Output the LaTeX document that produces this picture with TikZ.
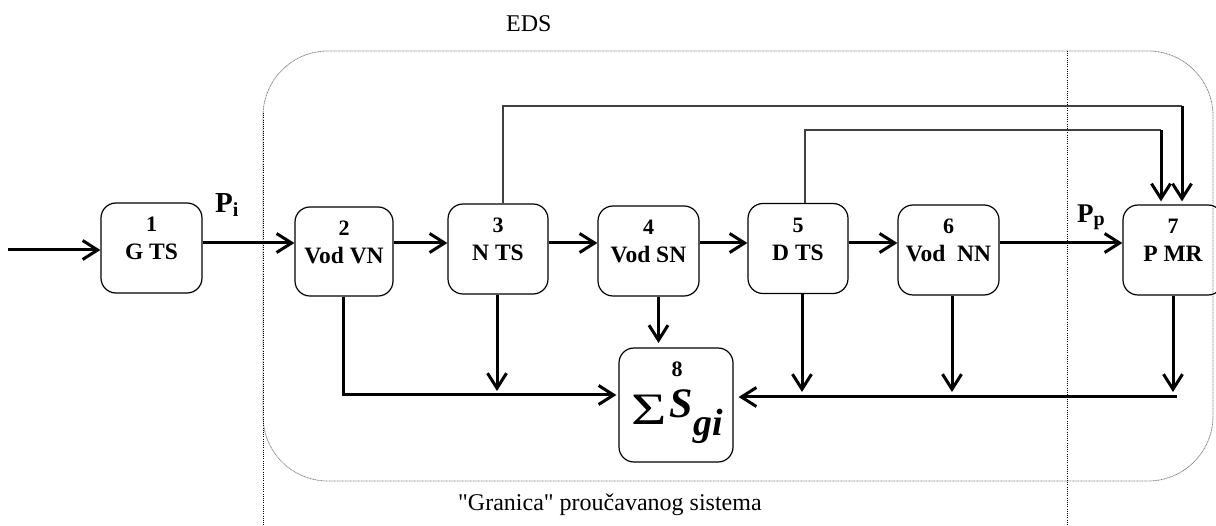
\documentclass[tikz,border=0pt]{standalone}
\usepackage{fontspec}
\setmainfont{Liberation Serif}
\newfontfamily\plainserif{Liberation Serif}
\usetikzlibrary{arrows.meta,calc}
\begin{document}
\begin{tikzpicture}[x=1pt,y=-1pt,
  blk/.style={draw,line width=1.2pt,rounded corners=15pt,minimum width=100pt,
              minimum height=90pt,inner sep=0pt},
  num/.style={font=\fontsize{22}{22}\selectfont\bfseries,anchor=base,inner sep=0pt},
  nam/.style={font=\fontsize{23.5}{23.5}\selectfont\bfseries,anchor=base,inner sep=0pt},
  arr/.style={line width=3pt,-{Straight Barb[length=15pt,width=19pt]}},
  feed/.style={line width=1.4pt,draw=black!75},
  guide/.style={line width=0.8pt,dash pattern=on 1pt off 1.2pt},
  region/.style={line width=0.8pt,draw=black!50,dash pattern=on 1pt off 0.6pt,
                 rounded corners=65pt},
  txt/.style={anchor=base west,inner sep=0pt,font=\plainserif\fontsize{24}{24}\selectfont},
]
\useasboundingbox (0,0) rectangle (1216,526);

% system boundary and the two limits
\draw[region] (263,51) rectangle (1213,481);
\draw[guide] (263,113) -- (263,526);
\draw[guide] (1067,51) -- (1067,526);

% blocks
\node[blk,minimum width=101pt] (b1) at (151.5,248) {};
\node[blk,minimum width=98pt,minimum height=89pt] (b2) at (344,251.5) {};
\node[blk] (b3) at (498,249) {};
\node[blk,minimum width=101pt] (b4) at (648.5,251) {};
\node[blk] (b5) at (798,248.5) {};
\node[blk,minimum width=101pt] (b6) at (948.5,250) {};
\node[blk] (b7) at (1173,250) {};
\node[blk,minimum width=114pt,minimum height=114pt] (b8) at (676,405) {};

\foreach \b/\n/\t in {b1/1/G TS, b2/2/Vod VN, b3/3/N TS, b4/4/Vod SN,
                      b5/5/D TS, b6/6/Vod~ NN, b7/7/P MR} {
  \node[num] (\b-n) at ($(\b.north)+(0,29.5)$) {\n};
  \node[nam] (\b-t) at ($(\b.north)+(0,57.5)$) {\t};
}

% summation block contents
\node[num] (b8-n) at (677,377) {8};
\node[anchor=base west,inner sep=0pt,font=\fontsize{45}{45}\selectfont] (sig) at (631,425)
  {\scalebox{1.35}[1]{Σ}};
\node[anchor=base west,inner sep=0pt,font=\fontsize{42}{42}\selectfont\bfseries\itshape]
  (sS) at (669,418) {S};
\node[anchor=base west,inner sep=0pt,font=\fontsize{38}{38}\selectfont\bfseries\itshape]
  (sgi) at (693,436) {gi};

% power labels
\node[anchor=base west,inner sep=0pt] (pi) at (215,213)
  {\fontsize{29}{29}\selectfont\bfseries P\raisebox{-4pt}{\fontsize{20}{20}\selectfont i}};
\node[anchor=base west,inner sep=0pt] (pp) at (1077,223)
  {\fontsize{27}{27}\selectfont\bfseries P\raisebox{-3pt}{\fontsize{20}{20}\selectfont p}};

% captions
\node[txt] (eds) at (506,32) {EDS};
\node[txt] (gran) at (458,511) {"Granica" proučavanog sistema};

% main chain
\coordinate (src) at (8,250);
\coordinate (hy) at (0,243);
\draw[arr] (src) -- (b1.west |- src);
\draw[arr] (b1.east |- hy) -- (b2.west |- hy);
\draw[arr] (b2.east |- hy) -- (b3.west |- hy);
\draw[arr] (b3.east |- hy) -- (b4.west |- hy);
\draw[arr] (b4.east |- hy) -- (b5.west |- hy);
\draw[arr] (b5.east |- hy) -- (b6.west |- hy);
\draw[arr] (b6.east |- hy) -- (b7.west |- hy);

% feedback paths to block 7
\coordinate (t1) at (1182,106);
\coordinate (t2) at (1161,130);
\draw[feed] ([xshift=5pt]b3.north) |- (t1);
\draw[arr] (t1) -- ([yshift=3pt]b7.north -| t1);
\draw[feed] ([xshift=7pt]b5.north) |- (t2);
\draw[arr] (t2) -- ([yshift=3pt]b7.north -| t2);

% losses collected in block 8
\coordinate (ly) at (0,395);
\coordinate (f3) at (497,391);
\coordinate (f4) at (658.5,343);
\coordinate (f5) at (802,392);
\coordinate (f6) at (952,392);
\coordinate (f7) at (1173,392);
\coordinate (rb) at (1177,397);
\draw[arr] ([xshift=-1pt]b2.south) |- ([xshift=-2pt]b8.west |- ly);
\draw[arr] (b3.south -| f3) -- (f3);
\draw[arr] (b4.south -| f4) -- (f4);
\draw[arr] (b5.south -| f5) -- (f5);
\draw[arr] (b6.south -| f6) -- (f6);
\draw[arr] (b7.south -| f7) -- (f7);
\draw[arr] (rb) -- ([xshift=5pt]b8.east |- rb);
\end{tikzpicture}
\end{document}
